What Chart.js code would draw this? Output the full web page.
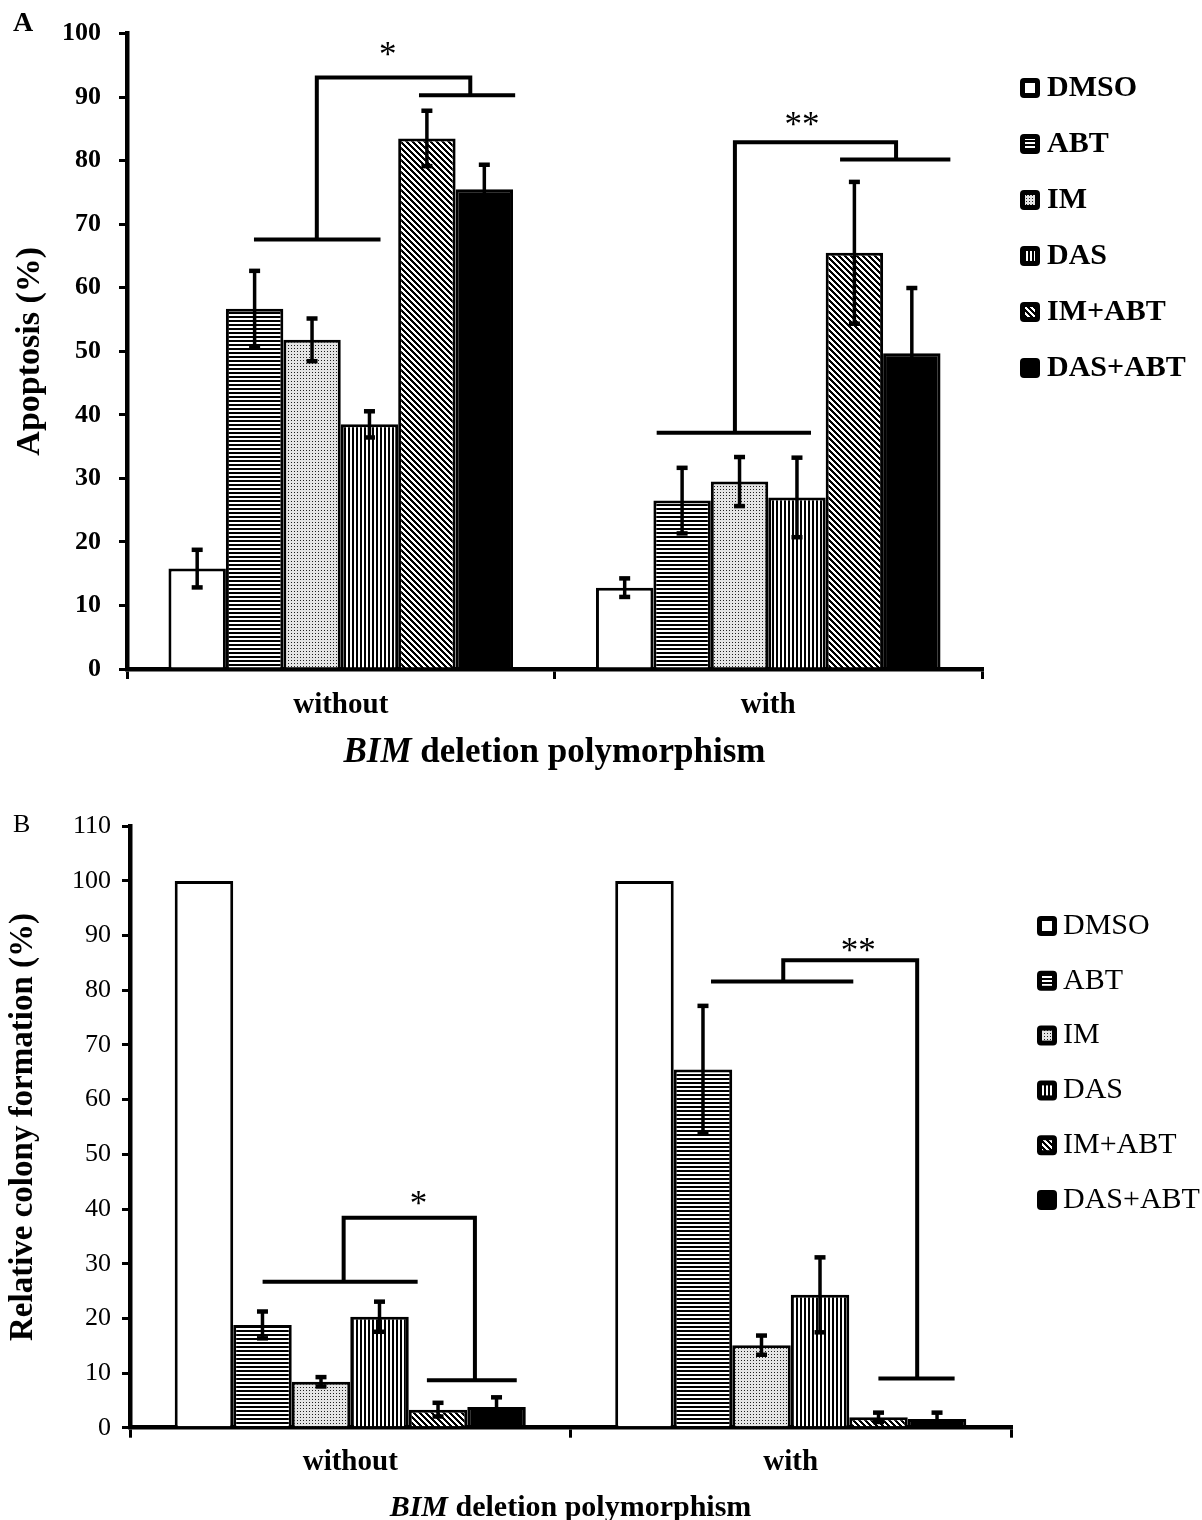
<!DOCTYPE html>
<html>
<head>
<meta charset="utf-8">
<script src="https://cdn.jsdelivr.net/npm/chart.js@4.4.1/dist/chart.umd.min.js"></script>
<style>
  body { margin: 0; background: #fff; width: 1202px; height: 1520px; overflow: hidden; position: relative; }
  canvas { position: absolute; left: 0; }
  #apoptosisChart { top: 0; width: 1202px; height: 790px; }
  #colonyChart { top: 790px; width: 1202px; height: 730px; }
</style>
</head>
<body>
<canvas id="apoptosisChart" width="1202" height="790"></canvas>
<canvas id="colonyChart" width="1202" height="730"></canvas>
<script>
// categories and series names
const groups = ['without', 'with']
const treatments = ['DMSO', 'ABT', 'IM', 'DAS', 'IM+ABT', 'DAS+ABT']

// panel A - apoptosis (%), mean and error per group
const apoDMSO = [15.8, 12.8]
const apoABT = [56.7, 26.5]
const apoIM = [51.8, 29.5]
const apoDAS = [38.5, 27.0]
const apoIMABT = [83.5, 65.5]
const apoDASABT = [75.5, 49.7]
const apoErrDMSO = [3.0, 1.5]
const apoErrABT = [6.0, 5.2]
const apoErrIM = [3.4, 3.9]
const apoErrDAS = [2.1, 6.3]
const apoErrIMABT = [4.4, 11.2]
const apoErrDASABT = [3.9, 10.3]

// panel B - relative colony formation (%)
const colDMSO = [100, 100]
const colABT = [18.8, 65.5]
const colIM = [8.4, 15.1]
const colDAS = [20.3, 24.3]
const colIMABT = [3.3, 1.9]
const colDASABT = [3.8, 1.6]
const colErrDMSO = [0, 0]
const colErrABT = [2.5, 11.7]
const colErrIM = [0.9, 1.8]
const colErrDAS = [2.8, 6.9]
const colErrIMABT = [1.3, 0.9]
const colErrDASABT = [1.8, 1.2]

// significance brackets, x in fractions of a group width from the group centre, y in %
const apoBrackets = [
    { group: 0, top: 93.1, leftDrop: -0.056, rightDrop: 0.303, leftBar: [-0.203, 0.093, 67.6], rightBar: [0.183, 0.408, 90.3], star: '*', starX: 0.110, starY: 97.6 },
    { group: 1, top: 82.9, leftDrop: -0.078, rightDrop: 0.299, leftBar: [-0.261, 0.100, 37.2], rightBar: [0.168, 0.426, 80.2], star: '**', starX: 0.079, starY: 86.6 }
]
const colBrackets = [
    { group: 0, top: 38.4, leftDrop: -0.015, rightDrop: 0.283, leftBar: [-0.199, 0.153, 26.7], rightBar: [0.174, 0.378, 8.7], star: '*', starX: 0.155, starY: 42.1 },
    { group: 1, top: 85.5, leftDrop: -0.017, rightDrop: 0.287, leftBar: [-0.181, 0.142, 81.6], rightBar: [0.199, 0.372, 9.0], star: '**', starX: 0.153, starY: 88.3 }
]

const serif = '"Liberation Serif", "Times New Roman", serif'

//builds the black and white fill patterns of the bars
function makePattern(kind) {
    const n = 12
    const c = document.createElement('canvas')
    c.width = n
    c.height = n
    const g = c.getContext('2d')
    const img = g.createImageData(n, n)
    for (let y = 0; y < n; y++) {
        for (let x = 0; x < n; x++) {
            let v = 255
            if (kind == 'hlines') v = (y % 4 < 2) ? 0 : 255
            else if (kind == 'vlines') v = (x % 4 < 2) ? 0 : 255
            else if (kind == 'dots') v = (x % 3 == 0 && y % 3 == 0) ? 30 : 228
            else if (kind == 'diag') v = (((x - y) % 6 + 6) % 6 < 3) ? 0 : 255
            else if (kind == 'solid') v = 0
            const k = (y * n + x) * 4
            img.data[k] = img.data[k + 1] = img.data[k + 2] = v
            img.data[k + 3] = 255
        }
    }
    g.putImageData(img, 0, 0)
    return g.createPattern(c, 'repeat')
}

const fills = ['#ffffff', makePattern('hlines'), makePattern('dots'), makePattern('vlines'), makePattern('diag'), makePattern('solid')]

//error bars drawn from the dataset errors
const errorBars = {
    id: 'errorBars',
    afterDatasetsDraw(chart, args, opts) {
        const ctx = chart.ctx
        const y = chart.scales.y
        ctx.save()
        ctx.strokeStyle = '#000'
        ctx.fillStyle = '#000'
        ctx.lineWidth = opts.width
        chart.data.datasets.forEach((ds, i) => {
            chart.getDatasetMeta(i).data.forEach((bar, j) => {
                const err = ds.errors[j]
                if (!err) return
                const top = y.getPixelForValue(ds.data[j] + err)
                const bot = y.getPixelForValue(ds.data[j] - err)
                ctx.beginPath()
                ctx.moveTo(bar.x, top)
                ctx.lineTo(bar.x, bot)
                ctx.stroke()
                ctx.fillRect(bar.x - opts.cap / 2, top - 2, opts.cap, 4.5)
                ctx.fillRect(bar.x - opts.cap / 2, bot - 2.5, opts.cap, 4.5)
            })
        })
        ctx.restore()
    }
}

//significance brackets with stars
const brackets = {
    id: 'brackets',
    afterDatasetsDraw(chart, args, opts) {
        const ctx = chart.ctx
        const xs = chart.scales.x, ys = chart.scales.y
        const groupW = xs.width / chart.data.labels.length
        ctx.save()
        ctx.strokeStyle = '#000'
        ctx.fillStyle = '#000'
        ctx.lineWidth = 4
        ctx.lineCap = 'butt'
        ctx.lineJoin = 'miter'
        opts.items.forEach(b => {
            const X = off => xs.getPixelForValue(b.group) + off * groupW
            const Y = v => ys.getPixelForValue(v)
            ctx.beginPath()
            ctx.moveTo(X(b.leftBar[0]), Y(b.leftBar[2]))
            ctx.lineTo(X(b.leftBar[1]), Y(b.leftBar[2]))
            ctx.moveTo(X(b.rightBar[0]), Y(b.rightBar[2]))
            ctx.lineTo(X(b.rightBar[1]), Y(b.rightBar[2]))
            ctx.moveTo(X(b.leftDrop), Y(b.leftBar[2]))
            ctx.lineTo(X(b.leftDrop), Y(b.top))
            ctx.lineTo(X(b.rightDrop), Y(b.top))
            ctx.lineTo(X(b.rightDrop), Y(b.rightBar[2]))
            ctx.stroke()
            ctx.font = `35px ${serif}`
            ctx.textAlign = 'center'
            ctx.textBaseline = 'alphabetic'
            ctx.fillText(b.star, X(b.starX), Y(b.starY) + 17)
        })
        ctx.restore()
    }
}

//legend on the right, panel letter and the x title with italic gene name
const extras = {
    id: 'extras',
    afterDraw(chart, args, opts) {
        const ctx = chart.ctx
        const area = chart.chartArea
        ctx.save()
        ctx.fillStyle = '#000'

        //legend
        chart.data.datasets.forEach((ds, i) => {
            const cy = opts.legendY + i * opts.legendStep
            ctx.fillStyle = '#000'
            ctx.beginPath()
            ctx.roundRect(opts.boxX, cy - 10, 20, 20, 4)
            ctx.fill()
            ctx.fillStyle = ds.backgroundColor
            ctx.fillRect(opts.boxX + 5, cy - 5, 10, 10)
            ctx.fillStyle = '#000'
            ctx.font = `${opts.legendWeight} 30px ${serif}`
            ctx.textAlign = 'left'
            ctx.textBaseline = 'middle'
            ctx.fillText(ds.label, opts.textX, cy)
        })

        //panel letter
        ctx.font = opts.letterFont
        ctx.textAlign = 'left'
        ctx.textBaseline = 'alphabetic'
        ctx.fillText(opts.letter, opts.letterX, opts.letterY)

        //x axis title
        const italic = `italic bold ${opts.titleSize}px ${serif}`
        const bold = `bold ${opts.titleSize}px ${serif}`
        ctx.font = italic
        const w1 = ctx.measureText(opts.titleGene).width
        ctx.font = bold
        const w2 = ctx.measureText(opts.titleRest).width
        const x0 = (area.left + area.right) / 2 - (w1 + w2) / 2
        const yb = area.bottom + opts.titleOffset
        ctx.font = italic
        ctx.fillText(opts.titleGene, x0, yb)
        ctx.font = bold
        ctx.fillText(opts.titleRest, x0 + w1, yb)
        ctx.restore()
    }
}

function drawPanel(id, p) {
    return new Chart(document.getElementById(id), {
        type: 'bar',
        data: {
            labels: groups,
            datasets: p.series.map((s, i) => ({
                label: treatments[i],
                data: s,
                errors: p.errors[i],
                backgroundColor: fills[i],
                borderColor: '#000',
                borderWidth: 3,
                barPercentage: 1,
                categoryPercentage: p.catPct
            }))
        },
        options: {
            responsive: false,
            animation: false,
            layout: { padding: { top: p.top, right: p.right, bottom: 0, left: 0 } },
            plugins: {
                legend: { display: false },
                tooltip: { enabled: false },
                errorBars: { width: 3.5, cap: 11 },
                brackets: { items: p.brackets },
                extras: p.extras
            },
            scales: {
                x: {
                    ticks: { color: '#000', font: { family: serif, size: 29, weight: 'bold' }, padding: p.xPad },
                    grid: { offset: true, drawOnChartArea: false, drawTicks: true, tickLength: 10, color: '#000', lineWidth: 3 },
                    border: { display: true, color: '#000', width: 4.5 },
                    afterFit: scale => { scale.height = p.xHeight }
                },
                y: {
                    min: 0,
                    max: p.yMax,
                    ticks: { stepSize: 10, color: '#000', font: { family: serif, size: 26, weight: p.tickWeight }, padding: p.yPad },
                    grid: { drawOnChartArea: false, drawTicks: true, tickLength: 8, color: '#000', lineWidth: 3 },
                    border: { display: true, color: '#000', width: 4.5 },
                    title: { display: true, text: p.yTitle, color: '#000', font: { family: serif, size: p.yTitleSize, weight: 'bold' }, padding: { top: p.yTitlePad, bottom: 0 } },
                    afterFit: scale => { scale.width = p.left }
                }
            }
        },
        plugins: [errorBars, brackets, extras]
    })
}

drawPanel('apoptosisChart', {
    series: [apoDMSO, apoABT, apoIM, apoDAS, apoIMABT, apoDASABT],
    errors: [apoErrDMSO, apoErrABT, apoErrIM, apoErrDAS, apoErrIMABT, apoErrDASABT],
    brackets: apoBrackets,
    catPct: 0.806,
    top: 28, right: 220, left: 127, xHeight: 121,
    yMax: 100, tickWeight: 'bold', yPad: 18, xPad: 9,
    yTitle: 'Apoptosis (%)', yTitleSize: 34, yTitlePad: 10,
    extras: {
        boxX: 1020, textX: 1047, legendY: 88, legendStep: 56, legendWeight: 'bold',
        letter: 'A', letterX: 13, letterY: 31, letterFont: `bold 28px ${serif}`,
        titleGene: 'BIM', titleRest: ' deletion polymorphism', titleSize: 35, titleOffset: 93
    }
})

drawPanel('colonyChart', {
    series: [colDMSO, colABT, colIM, colDAS, colIMABT, colDASABT],
    errors: [colErrDMSO, colErrABT, colErrIM, colErrDAS, colErrIMABT, colErrDASABT],
    brackets: colBrackets,
    catPct: 0.797,
    top: 36.3, right: 191, left: 130, xHeight: 92.3,
    yMax: 110, tickWeight: 'normal', yPad: 11, xPad: 7,
    yTitle: 'Relative colony formation (%)', yTitleSize: 33, yTitlePad: 4,
    extras: {
        boxX: 1037, textX: 1063, legendY: 136, legendStep: 54.8, legendWeight: 'normal',
        letter: 'B', letterX: 13, letterY: 41.7, letterFont: `26px ${serif}`,
        titleGene: 'BIM', titleRest: ' deletion polymorphism', titleSize: 30, titleOffset: 88.3
    }
})
</script>
</body>
</html>
